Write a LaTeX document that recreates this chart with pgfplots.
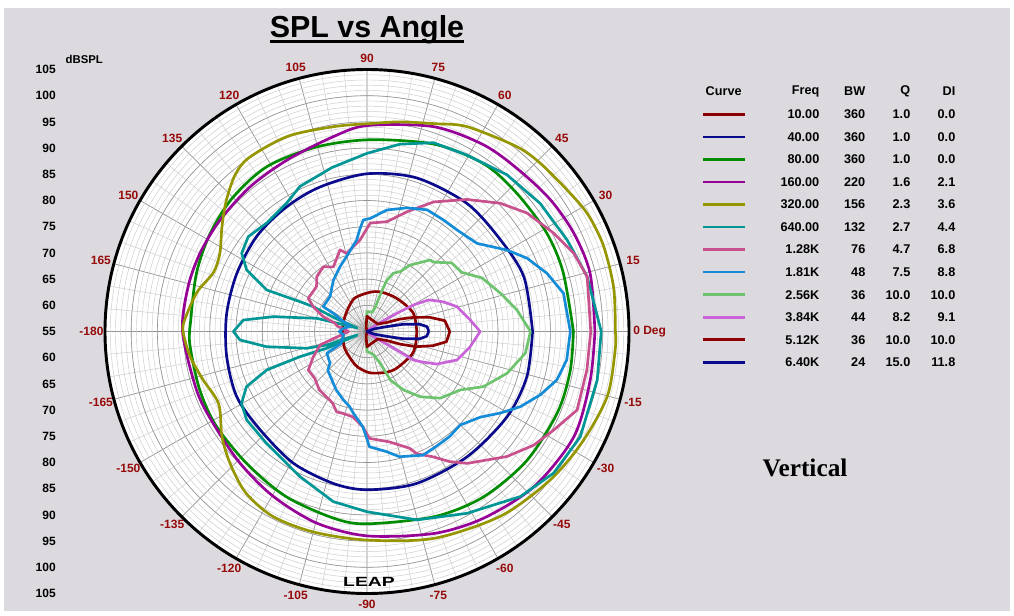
\documentclass[border=0pt]{standalone}
\usepackage{pgfplots}
\pgfplotsset{compat=1.18}
\usepackage{pgfplotstable}
\usepgfplotslibrary{polar}
\usepackage{fontspec}
\setmainfont{Liberation Sans}
\newfontfamily\serifface{Liberation Serif}

\definecolor{bg}{RGB}{220,218,222}
\definecolor{lblred}{RGB}{150,10,10}
\definecolor{cA}{RGB}{140,0,0}
\definecolor{cB}{RGB}{10,10,140}
\definecolor{cC}{RGB}{0,140,0}
\definecolor{cD}{RGB}{150,0,150}
\definecolor{cE}{RGB}{150,150,0}
\definecolor{cF}{RGB}{0,150,150}
\definecolor{cG}{RGB}{200,80,140}
\definecolor{cH}{RGB}{20,140,215}
\definecolor{cI}{RGB}{110,195,110}
\definecolor{cJ}{RGB}{200,100,215}
\definecolor{cK}{RGB}{140,0,0}
\definecolor{cL}{RGB}{10,10,140}

% angle (deg)  SPL (dB)
\pgfplotstableread{
a s
0 64.5
22 64.5
48 63.5
70 63.0
86 62.5
110 61.8
129 60.7
150 60.0
165 59.7
180 59.6
195 59.7
215 60.3
237.6 61.0
255 62.0
274 62.9
295 63.6
309 64.0
332 64.6
345 64.6
360 64.5
}\tA
\pgfplotstableread{
a s
0 86.6
19 86.7
34.5 85.9
52 86.0
72 85.8
90 85.1
108 84.0
123 83.3
139 82.8
156 82.2
173 82.0
190 82.2
206.6 82.8
222.6 82.7
240.8 83.8
257.5 84.7
270 85.2
288 85.5
308.6 85.6
328.7 86.3
344.2 86.7
360 86.6
}\tB
\pgfplotstableread{
a s
0 94.4
17 94.1
29 94.1
43 93.9
55 94.0
70 93.0
89 91.6
105 91.5
121 91.8
135 91.2
148 90.3
161 89.4
176 88.7
184 88.9
199 88.8
212 88.95
228 89.1
244 90.1
260 91.2
270 91.7
290 92.6
305 93.6
321 94.2
337 94.5
349 94.5
360 94.4
}\tC
\pgfplotstableread{
a s
0 98.5
14.6 99.0
25.4 98.7
35.7 98.1
47 97.3
58 97.0
72 96.1
90 94.3
100 92.7
115 91.1
129 90.5
143 90.2
155 90.2
166 90.2
180 90.2
199 89.4
211 89.2
226 89.9
240.4 91.2
255.3 92.8
270 94.0
288.3 95.6
302 97.0
317.1 98.5
333 99.3
347.7 98.6
360 98.5
}\tD
\pgfplotstableread{
a s
0 102.4
10 102.8
20 103.0
28 102.7
35 101.8
44 101.1
51 100.4
64 98.5
72 96.7
81 95.5
89 94.7
99 94.6
112 95.2
124 95.1
130 94.1
137 91.7
144 89.2
152 86.8
159 86.4
167 88.3
176 89.8
180 90.1
188 89.1
196.5 87.6
206 86.5
216 89.2
224 91.3
233 93.5
243 94.6
255 94.6
270 94.8
288 96.5
306 98.5
321 100.0
333 101.2
345 102.5
356 102.5
360 102.4
}\tE
\pgfplotstableread{
a s
0 99.7
14 98.3
24.6 97.0
36.5 96.1
48.2 95.1
60.5 93.7
70.6 93.2
80 91.3
90 89.0
102 87.0
114.8 85.5
122.1 83.9
132.8 83.2
141.4 84.0
148 83.2
152.9 80.8
157.5 75.7
156 69.0
155.2 66.3
157 62
160 57
165.3 64.9
171 73.1
174.7 78.7
180 80.5
183.8 79.3
188.6 74.4
195.6 66.9
198.5 63.1
200 57
202.6 63.3
200.6 68.7
201 75.5
204.6 80.3
209.8 82.6
216.3 83.5
228.1 83.7
245.2 85.5
258.8 88.1
270 89.4
284.9 92.2
298.8 94.6
312.9 98.0
322.8 99.7
333.7 100.4
348.1 99.9
360 99.7
}\tF
\pgfplotstableread{
a s
0 97.7
14 98.3
20.7 97.2
27.7 95.3
36.5 93.0
43.9 90.3
52.9 86.6
62.8 82.8
71.5 79.1
79.7 76.3
88.3 75.7
94.4 72.5
99.2 71.4
104.6 70.4
108.3 71.4
117.5 68.9
124 69.9
132.5 69.2
138.3 67.9
145.4 67.8
150.5 67.9
155.2 66.3
161.3 63.8
165.6 61.3
170 60.7
180 58.5
190 60.7
196 64.3
205.1 66.3
213.3 68.4
222 68.4
230.9 69.4
241.6 69.9
244.5 70.2
249.3 71.4
253.5 71.3
260.5 71.5
267.5 73.2
271.3 75.4
281.5 76.5
290 78.7
292.2 80.2
297.7 82.0
302.4 84.4
307.2 86.6
318.2 90.8
325.7 93.5
332.2 95.3
339.5 97.8
350.1 97.6
360 97.7
}\tG
\pgfplotstableread{
a s
0 93.8
11 93.2
17.9 91.1
24.6 88.6
30.2 85.9
38.7 81.9
48.4 80.9
55.5 80.8
63.7 80.9
72.1 79.8
80.7 78.5
88.3 76.6
91.9 76.3
94.1 74.5
96.4 72.6
103.4 70.3
112.6 68.4
123.2 66.7
136.8 64.7
150.4 64.6
151.6 62.3
164 58.4
172 59.5
180 60.3
188 59.5
205 60.5
208.4 63.7
220.7 64.3
224.5 65.5
237 66.8
242.2 67.6
250.9 68.8
256.9 69.7
260.5 70.8
267.5 73.2
269.6 75.1
271.2 77.0
279.1 78.2
284.6 79.7
294.3 80.9
301 80.6
308.1 80.5
314.9 80.2
322.9 82.1
328.5 84.8
333.9 87.6
339.9 90.2
345.7 92.4
351.9 93.5
360 93.8
}\tH
\pgfplotstableread{
a s
0 86.2
8.2 83.9
16 81.5
25 79.2
32 76.3
39 75.8
46 73.4
48.6 73.2
53.8 71.1
57.1 70.1
60.9 68.1
65.7 67.2
68.8 65.5
70 63
71 60
75 58.8
90 58.8
100 56
180 55
260 56
270 58.8
285 59.5
292.7 61.6
295.7 65.3
302.1 68.2
309.3 71.1
317.7 73.9
327.9 76.0
334.7 79.6
343.4 82.9
352.2 85.5
360 86.2
}\tI
\pgfplotstableread{
a s
0 76.6
6.4 74.8
15.5 72.8
21.3 70.6
27 68.3
29.5 65.5
31 62.5
32.5 60
35 57.5
50 55.5
90 55
180 55
270 55
310 55.5
325 57.5
327.5 60
328.1 61.7
328.4 65.4
331 67
335 69.7
342.4 73.0
351.6 74.9
360 76.6
}\tJ
\pgfplotstableread{
a s
0 70.8
7.9 70.0
12.7 67.3
17 64.2
20.7 61.7
25 59
35 57.5
90 57.9
100 56
180 55
260 56
270 57.9
325 57.5
335 59
339.3 61.9
343 64.9
347.9 67.9
352.7 70.3
360 70.8
}\tK
\pgfplotstableread{
a s
0 66.8
4.6 66.5
7.8 65.2
11.3 62.0
14 58.8
20 56.5
90 55
270 55
340 56.5
346 58.8
348.7 62.1
352.2 65.2
355.4 66.4
360 66.8
}\tL

\begin{document}
\begin{tikzpicture}[x=0.75pt,y=0.75pt]
\fill[white] (0,0) rectangle (1014,615);
\fill[bg] (4,4) rectangle (1010,607);
\fill[white] (367,283.5) circle (262);
\begin{polaraxis}[
  at={(275.25pt,212.625pt)}, anchor=center,
  scale only axis, width=393pt, height=393pt,
  ymin=0, ymax=50,
  xtick={0,15,...,345},
  minor xtick={0,5,...,355},
  ytick={5,10,...,50},
  minor ytick={1,2,...,49},
  yticklabels={},
  xticklabels={},
  major tick length=0pt, minor tick length=0pt,
  grid=both,
  major grid style={draw=black!42, line width=0.45pt},
  minor grid style={draw=black!20, line width=0.35pt},
  x axis line style={black, line width=2.2pt},
  y axis line style={draw=none},
  every axis plot/.append style={line width=2pt, line join=round, no markers},
]
\addplot[cA, smooth] table[x=a, y expr=\thisrow{s}-55] {\tA};
\addplot[cB, smooth] table[x=a, y expr=\thisrow{s}-55] {\tB};
\addplot[cC, smooth] table[x=a, y expr=\thisrow{s}-55] {\tC};
\addplot[cD, smooth] table[x=a, y expr=\thisrow{s}-55] {\tD};
\addplot[cE, smooth] table[x=a, y expr=\thisrow{s}-55] {\tE};
\addplot[cF] table[x=a, y expr=\thisrow{s}-55] {\tF};
\addplot[cG] table[x=a, y expr=\thisrow{s}-55] {\tG};
\addplot[cH] table[x=a, y expr=\thisrow{s}-55] {\tH};
\addplot[cI] table[x=a, y expr=\thisrow{s}-55] {\tI};
\addplot[cJ] table[x=a, y expr=\thisrow{s}-55] {\tJ};
\addplot[cK] table[x=a, y expr=\thisrow{s}-55] {\tK};
\addplot[cL] table[x=a, y expr=\thisrow{s}-55] {\tL};
\end{polaraxis}

% angle labels
\begin{scope}[shift={(367,283.5)}, font=\fontsize{9}{10}\selectfont\bfseries, text=lblred]
\node[anchor=west, inner sep=0pt] at (0:266) {0 Deg};
\foreach \a/\t in {15/15,30/30,45/45,60/60,75/75,90/90,105/105,120/120,135/135,150/150,165/165,180/-180,195/-165,210/-150,225/-135,240/-120,255/-105,270/-90,285/-75,300/-60,315/-45,330/-30,345/-15}{
  \node[inner sep=0pt] at (\a:275.5 and 273) {\t};
}
\end{scope}

% title
\node[anchor=base, font=\fontsize{22.8}{26}\selectfont\bfseries] at (367,577.7) {SPL vs Angle};
\draw[line width=2.2pt] (269.5,573.2) -- (464,573.2);

% dB scale column
\node[anchor=west, font=\fontsize{8.5}{10}\selectfont\bfseries] at (61,556) {dBSPL};
\foreach \v [count=\k from 0] in {105,100,95,90,85,80,75,70,65,60,55,60,65,70,75,80,85,90,95,100,105}{
  \node[anchor=east, font=\fontsize{9}{10}\selectfont\bfseries, inner sep=0pt] at (56,545.5-26.2*\k) {\v};
}

% LEAP mark
\node[font=\fontsize{10}{12}\selectfont\bfseries] at (369,33) {\scalebox{1.45}[1]{LEAP}};

% Legend
\begin{scope}[font=\fontsize{9.5}{11}\selectfont\bfseries]
\node[anchor=west] at (701,524) {Curve};
\node[anchor=east] at (824,524) {Freq};
\node[anchor=east] at (870,524) {BW};
\node[anchor=east] at (915,524) {Q};
\node[anchor=east] at (960,524) {DI};
\foreach \c/\f/\b/\q/\d [count=\i from 0] in {cA/10.00/360/1.0/0.0, cB/40.00/360/1.0/0.0, cC/80.00/360/1.0/0.0, cD/160.00/220/1.6/2.1, cE/320.00/156/2.3/3.6, cF/640.00/132/2.7/4.4, cG/1.28K/76/4.7/6.8, cH/1.81K/48/7.5/8.8, cI/2.56K/36/10.0/10.0, cJ/3.84K/44/8.2/9.1, cK/5.12K/36/10.0/10.0, cL/6.40K/24/15.0/11.8}{
  \pgfmathsetmacro\yy{615-114.3-22.55*\i}
  \draw[\c, line width=2pt] (703,\yy) -- (745,\yy);
  \node[anchor=east] at (824,\yy) {\f};
  \node[anchor=east] at (870,\yy) {\b};
  \node[anchor=east] at (915,\yy) {\q};
  \node[anchor=east] at (960,\yy) {\d};
}
\end{scope}

\node[font=\serifface\fontsize{19}{22}\selectfont\bfseries] at (805,147) {Vertical};
\end{tikzpicture}
\end{document}
